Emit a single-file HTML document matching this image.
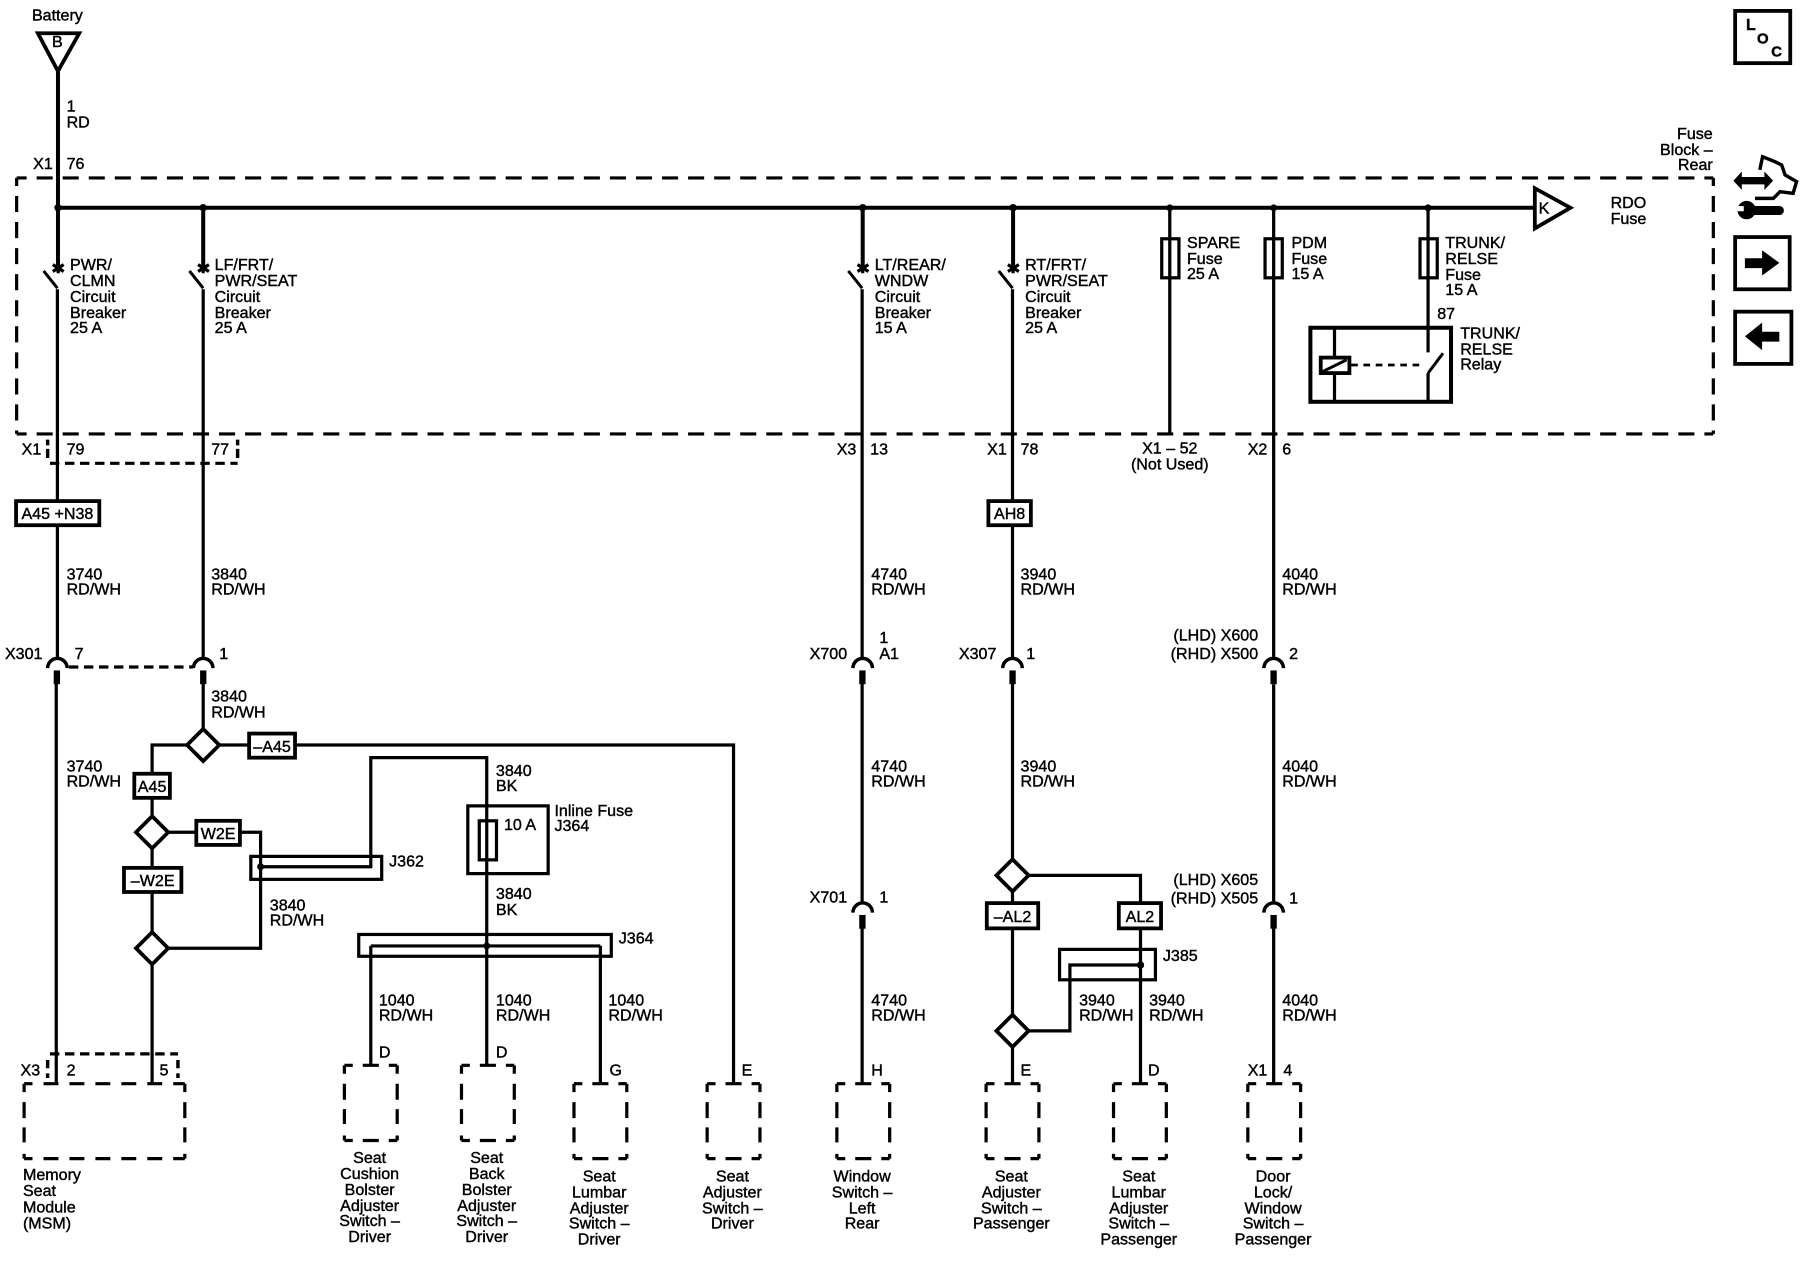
<!DOCTYPE html>
<html><head><meta charset="utf-8"><title>Wiring diagram</title>
<style>
html,body{margin:0;padding:0;background:#fff}
svg{display:block;width:1800px;height:1280px}
text{font-family:"Liberation Sans",sans-serif;font-size:14px;fill:#000;stroke:#000;stroke-width:.35}
.m{text-anchor:middle}.e{text-anchor:end}
.w{fill:none;stroke:#000;stroke-width:3.5}
.t{fill:none;stroke:#000;stroke-width:2.8}
.b{fill:#fff;stroke:#000;stroke-width:3.3}
.s{fill:none;stroke:#000;stroke-width:2.8;stroke-dasharray:8.2 4.9}
.fh{fill:none;stroke:#000;stroke-width:2.8;stroke-dasharray:14 8.7;stroke-dashoffset:5.3}
.fv{fill:none;stroke:#000;stroke-width:2.8;stroke-dasharray:14 8.7;stroke-dashoffset:7}
.h{fill:none;stroke:#000;stroke-width:2.8;stroke-dasharray:7.300 8.700 14 8.700 8}
.v{fill:none;stroke:#000;stroke-width:2.8;stroke-dasharray:7.300 8.700 14 8.100 13 10 7}
.hl{fill:none;stroke:#000;stroke-width:2.8;stroke-dasharray:13 9.600;stroke-dashoffset:5.700}
</style></head><body>
<svg xmlns="http://www.w3.org/2000/svg" viewBox="0 0 1568 1115" preserveAspectRatio="none">
<rect width="1568" height="1115" fill="#fff"/>
<!-- frame -->
<path class="fh" d="M14.500 155H1492.500M14.500 378H1492.500"/>
<path class="fv" d="M14.500 155V378M1492.500 155V378"/>
<!-- X1 79/77 bracket -->
<path class="s" d="M43.500 403.600H207"/>
<path d="M41.500 383V388M41.500 391V399M207 383V388M207 391V399" stroke="#000" stroke-width="3" fill="none"/>
<path class="s" d="M60 581H168"/>
<!-- X3 bracket -->
<path class="s" d="M43.500 918H155"/>
<path d="M41.500 923.400V930.500M41.500 935V939M155 923.400V930.500M155 935V939" stroke="#000" stroke-width="3" fill="none"/>
<!-- bus and wires -->
<path class="w" d="M50.500 60V233M50.500 181H1338"/>
<path class="w" d="M177 178V233M751.500 178V233M882.500 178V233"/>
<path class="t" d="M1019 181V378M1109.500 181V573.500M1244 181V307M1244 325V350"/>
<path class="t" d="M1109.500 596V786M1109.500 808V944"/>
<path class="t" d="M50 252V573.500M177 252V573.500M751 252V573.500M882 252V573.500"/>
<path class="t" d="M49 590V944M177 590V635M751 590V786M751 800V944M882 590V748M882 776V884M882 912V944"/>
<path class="t" d="M163 649H132.500V711M191 649H639V944M146 725H227V826H146M132.500 739V812M132.500 840V944"/>
<path class="t" d="M227 755H323V660H424V928M323 824H523M323 824V928M523 824V944"/>
<path class="t" d="M896 762.500H993.500V944M896 898H932V840.600H993.500"/>
<!-- junction dots -->
<g>
<circle cx="50.500" cy="181" r="3.200"/><circle cx="177" cy="181" r="3.200"/><circle cx="751.500" cy="181" r="3.200"/><circle cx="882.500" cy="181" r="3.200"/><circle cx="1019" cy="181" r="3"/><circle cx="1109.500" cy="181" r="3"/><circle cx="1244" cy="181" r="3"/>
<circle cx="227" cy="755" r="3"/><circle cx="424" cy="824" r="3"/><circle cx="993.500" cy="840.600" r="3.200"/>
</g>
<!-- battery -->
<path class="b" d="M33 29H69L50.500 62Z"/>
<!-- K -->
<path class="b" d="M1337 164L1368 181L1337 199Z"/>
<!-- breakers -->
<g stroke="#000" fill="none">
<g stroke-width="2.600"><path d="M38 236L50 251"/><path d="M165 236L177 251"/><path d="M739 236L751 251"/><path d="M870 236L882 251"/></g>
<g stroke-width="2.800">
<path d="M46 230.500L55.500 236.500M46 236.500L55.500 230.500M50.700 229V238"/>
<path d="M172.500 230.500L182 236.500M172.500 236.500L182 230.500M177 229V238"/>
<path d="M747 230.500L756.500 236.500M747 236.500L756.500 230.500M751.500 229V238"/>
<path d="M878 230.500L887.500 236.500M878 236.500L887.500 230.500M882.500 229V238"/>
</g>
</g>
<!-- fuses -->
<rect class="t" x="1012" y="208" width="15" height="34"/>
<rect class="t" x="1102" y="208" width="15" height="34"/>
<rect class="t" x="1237" y="208" width="15" height="34"/>
<!-- relay -->
<rect class="w" x="1141.500" y="285.500" width="122.500" height="64.500"/>
<path class="t" d="M1162.500 286V350"/>
<rect class="b" x="1150.500" y="311.500" width="25" height="13.500" stroke-width="2.900"/>
<path d="M1151.500 324L1173 313.500" stroke="#000" stroke-width="2.600" fill="none"/>
<path d="M1177 318H1240" stroke="#000" stroke-width="2.400" stroke-dasharray="5.800 4.900" fill="none"/>
<path d="M1244 325L1257 307.700" stroke="#000" stroke-width="2.600" fill="none"/>
<!-- connectors -->
<g fill="none" stroke="#000" stroke-width="3">
<path d="M41.500 582A8.500 8.500 0 0 1 58.500 582"/>
<path d="M168.500 582A8.500 8.500 0 0 1 185.500 582"/>
<path d="M743 582A8.500 8.500 0 0 1 760 582"/>
<path d="M873.500 582A8.500 8.500 0 0 1 890.500 582"/>
<path d="M1101 582A8.500 8.500 0 0 1 1118 582"/>
<path d="M743 795A8.500 8.500 0 0 1 760 795"/>
<path d="M1101 795A8.500 8.500 0 0 1 1118 795"/>
</g>
<g>
<rect x="46.800" y="584" width="5.500" height="12"/><rect x="174.300" y="584" width="5.500" height="12"/><rect x="748.500" y="584" width="5.500" height="12"/><rect x="879.300" y="584" width="5.500" height="12"/><rect x="1106.700" y="584" width="5.500" height="12"/><rect x="748.500" y="797" width="5.500" height="12"/><rect x="1106.700" y="797" width="5.500" height="12"/>
</g>
<!-- diamonds -->
<path class="b" d="M177 635L191 649L177 663L163 649Z"/>
<path class="b" d="M132.500 711L146.500 725L132.500 739L118.500 725Z"/>
<path class="b" d="M132.500 812L146.500 826L132.500 840L118.500 826Z"/>
<path class="b" d="M882 748.500L896 762.500L882 776.500L868 762.500Z"/>
<path class="b" d="M882 884L896 898L882 912L868 898Z"/>
<!-- option boxes -->
<rect class="b" x="14" y="436.500" width="72.500" height="21"/>
<rect class="b" x="861" y="436.500" width="37" height="21"/>
<rect class="b" x="217" y="639" width="40" height="21"/>
<rect class="b" x="117" y="674" width="31" height="21"/>
<rect class="b" x="171" y="715" width="38" height="21"/>
<rect class="b" x="108" y="756" width="50" height="21"/>
<rect class="b" x="859.600" y="786.700" width="44.800" height="22"/>
<rect class="b" x="974.600" y="786.700" width="36.800" height="22"/>
<!-- splices and inline fuse -->
<rect class="t" x="218.500" y="746" width="114" height="20"/>
<rect class="t" x="312.500" y="814" width="220" height="19"/>
<rect class="t" x="923" y="827" width="83.500" height="26.500"/>
<rect class="t" x="407.500" y="702" width="70" height="59"/>
<rect class="t" x="417.500" y="715" width="15" height="34"/>
<!-- component outlines -->
<path class="hl" d="M21 944H161M21 1009.300H161"/>
<path class="v" d="M21 944V1009.300M161 944V1009.300"/>
<path class="h" d="M300 928H346M300 993.500H346M402 928H448M402 993.500H448"/>
<path class="v" d="M300 928V993.500M346 928V993.500M402 928V993.500M448 928V993.500"/>
<path class="h" d="M500 944H546M500 1009.300H546M616 944H662M616 1009.300H662M729 944H775M729 1009.300H775M859 944H905M859 1009.300H905M970 944H1016M970 1009.300H1016M1087 944H1133M1087 1009.300H1133"/>
<path class="v" d="M500 944V1009.300M546 944V1009.300M616 944V1009.300M662 944V1009.300M729 944V1009.300M775 944V1009.300M859 944V1009.300M905 944V1009.300M970 944V1009.300M1016 944V1009.300M1087 944V1009.300M1133 944V1009.300"/>
<!-- side icons -->
<rect class="b" x="1511.500" y="9.500" width="48" height="45.500" stroke-width="2.900"/>
<rect class="b" x="1511.500" y="206.500" width="47.500" height="45.500" stroke-width="2.900"/>
<rect class="b" x="1511.500" y="271.500" width="49" height="45.500" stroke-width="2.900"/>
<path d="M1520 225H1535V218L1550 229L1535 240V233.600H1520Z"/>
<path d="M1550 289H1535V281L1520 293L1535 305V297.600H1550Z"/>
<path d="M1510 157.400L1517.300 149.400V154.200H1537V149.400L1544.600 157.400L1537 165.400V160.600H1517.300V165.400Z"/>
<path d="M1533 148L1535.400 136.500L1546 140.800L1552 143.700L1555 152.400L1565 158.200L1562 168.400L1550.600 167L1544.800 172.800H1528.800" fill="none" stroke="#000" stroke-width="3"/>
<rect x="1523" y="179.400" width="31" height="7.900" rx="3.900"/>
<circle cx="1521.500" cy="183" r="8"/>
<rect x="1513" y="179.500" width="6" height="4.500" fill="#fff"/>
<text x="1521" y="26" font-weight="bold">L</text><text x="1530.500" y="37.700" font-weight="bold" style="font-size:13px">O</text><text x="1543" y="49.400" font-weight="bold" style="font-size:13px">C</text>
<!-- labels -->
<text x="50" y="18" class="m">Battery</text>
<text x="50" y="41" class="m">B</text>
<text x="1345" y="186" class="m">K</text>
<text x="58" y="97">1</text><text x="58" y="111">RD</text>
<text x="46" y="147" class="e">X1</text><text x="58" y="147">76</text>
<text x="1492" y="121" class="e">Fuse</text><text x="1492" y="135" class="e">Block –</text><text x="1492" y="148" class="e">Rear</text>
<text x="1403" y="181">RDO</text><text x="1403" y="195">Fuse</text>
<text x="61" y="235">PWR/</text><text x="61" y="249">CLMN</text><text x="61" y="263">Circuit</text><text x="61" y="277">Breaker</text><text x="61" y="290">25 A</text>
<text x="187" y="235">LF/FRT/</text><text x="187" y="249">PWR/SEAT</text><text x="187" y="263">Circuit</text><text x="187" y="277">Breaker</text><text x="187" y="290">25 A</text>
<text x="762" y="235">LT/REAR/</text><text x="762" y="249">WNDW</text><text x="762" y="263">Circuit</text><text x="762" y="277">Breaker</text><text x="762" y="290">15 A</text>
<text x="893" y="235">RT/FRT/</text><text x="893" y="249">PWR/SEAT</text><text x="893" y="263">Circuit</text><text x="893" y="277">Breaker</text><text x="893" y="290">25 A</text>
<text x="1034" y="216">SPARE</text><text x="1034" y="230">Fuse</text><text x="1034" y="243">25 A</text>
<text x="1125" y="216">PDM</text><text x="1125" y="230">Fuse</text><text x="1125" y="243">15 A</text>
<text x="1259" y="216">TRUNK/</text><text x="1259" y="230">RELSE</text><text x="1259" y="244">Fuse</text><text x="1259" y="257">15 A</text>
<text x="1252" y="278">87</text>
<text x="1272" y="295">TRUNK/</text><text x="1272" y="309">RELSE</text><text x="1272" y="322">Relay</text>
<text x="36" y="396" class="e">X1</text><text x="58" y="396">79</text><text x="184" y="396">77</text>
<text x="746" y="396" class="e">X3</text><text x="758" y="396">13</text>
<text x="877" y="396" class="e">X1</text><text x="889" y="396">78</text>
<text x="1019" y="395" class="m">X1 – 52</text><text x="1019" y="409" class="m">(Not Used)</text>
<text x="1104" y="396" class="e">X2</text><text x="1117" y="396">6</text>
<text x="50" y="452" class="m">A45 +N38</text><text x="879.500" y="452" class="m">AH8</text>
<text x="237" y="655" class="m">–A45</text><text x="132.500" y="690" class="m">A45</text><text x="190" y="731" class="m">W2E</text><text x="133" y="772" class="m">–W2E</text>
<text x="882" y="803" class="m">–AL2</text><text x="993" y="803" class="m">AL2</text>
<text x="58" y="505">3740</text><text x="58" y="518">RD/WH</text>
<text x="184" y="505">3840</text><text x="184" y="518">RD/WH</text>
<text x="759" y="505">4740</text><text x="759" y="518">RD/WH</text>
<text x="889" y="505">3940</text><text x="889" y="518">RD/WH</text>
<text x="1117" y="505">4040</text><text x="1117" y="518">RD/WH</text>
<text x="37" y="574" class="e">X301</text><text x="65" y="574">7</text><text x="191" y="574">1</text>
<text x="738" y="574" class="e">X700</text><text x="766" y="560">1</text><text x="766" y="574">A1</text>
<text x="868" y="574" class="e">X307</text><text x="894" y="574">1</text>
<text x="1096" y="558" class="e">(LHD) X600</text><text x="1096" y="574" class="e">(RHD) X500</text><text x="1123" y="574">2</text>
<text x="184" y="611">3840</text><text x="184" y="625">RD/WH</text>
<text x="58" y="672">3740</text><text x="58" y="685">RD/WH</text>
<text x="759" y="672">4740</text><text x="759" y="685">RD/WH</text>
<text x="889" y="672">3940</text><text x="889" y="685">RD/WH</text>
<text x="1117" y="672">4040</text><text x="1117" y="685">RD/WH</text>
<text x="432" y="676">3840</text><text x="432" y="689">BK</text>
<text x="483" y="711">Inline Fuse</text><text x="483" y="724">J364</text><text x="439" y="723">10 A</text>
<text x="339" y="755">J362</text>
<text x="432" y="783">3840</text><text x="432" y="797">BK</text>
<text x="235" y="793">3840</text><text x="235" y="806">RD/WH</text>
<text x="539" y="822">J364</text><text x="1013" y="837">J385</text>
<text x="738" y="786" class="e">X701</text><text x="766" y="786">1</text>
<text x="1096" y="771" class="e">(LHD) X605</text><text x="1096" y="787" class="e">(RHD) X505</text><text x="1123" y="787">1</text>
<text x="330" y="876">1040</text><text x="330" y="889">RD/WH</text>
<text x="432" y="876">1040</text><text x="432" y="889">RD/WH</text>
<text x="530" y="876">1040</text><text x="530" y="889">RD/WH</text>
<text x="759" y="876">4740</text><text x="759" y="889">RD/WH</text>
<text x="940" y="876">3940</text><text x="940" y="889">RD/WH</text>
<text x="1001" y="876">3940</text><text x="1001" y="889">RD/WH</text>
<text x="1117" y="876">4040</text><text x="1117" y="889">RD/WH</text>
<text x="330" y="921">D</text><text x="432" y="921">D</text>
<text x="35" y="937" class="e">X3</text><text x="58" y="937">2</text><text x="139" y="937">5</text>
<text x="531" y="937">G</text><text x="646" y="937">E</text><text x="759" y="937">H</text><text x="889" y="937">E</text><text x="1000" y="937">D</text>
<text x="1104" y="937" class="e">X1</text><text x="1118" y="937">4</text>
<text x="20" y="1028">Memory</text><text x="20" y="1042">Seat</text><text x="20" y="1056">Module</text><text x="20" y="1070">(MSM)</text>
<text class="m" x="322" y="1013">Seat</text><text class="m" x="322" y="1027">Cushion</text><text class="m" x="322" y="1041">Bolster</text><text class="m" x="322" y="1055">Adjuster</text><text class="m" x="322" y="1068">Switch –</text><text class="m" x="322" y="1082">Driver</text>
<text class="m" x="424" y="1013">Seat</text><text class="m" x="424" y="1027">Back</text><text class="m" x="424" y="1041">Bolster</text><text class="m" x="424" y="1055">Adjuster</text><text class="m" x="424" y="1068">Switch –</text><text class="m" x="424" y="1082">Driver</text>
<text class="m" x="522" y="1029">Seat</text><text class="m" x="522" y="1043">Lumbar</text><text class="m" x="522" y="1057">Adjuster</text><text class="m" x="522" y="1070">Switch –</text><text class="m" x="522" y="1084">Driver</text>
<text class="m" x="638" y="1029">Seat</text><text class="m" x="638" y="1043">Adjuster</text><text class="m" x="638" y="1057">Switch –</text><text class="m" x="638" y="1070">Driver</text>
<text class="m" x="751" y="1029">Window</text><text class="m" x="751" y="1043">Switch –</text><text class="m" x="751" y="1057">Left</text><text class="m" x="751" y="1070">Rear</text>
<text class="m" x="881" y="1029">Seat</text><text class="m" x="881" y="1043">Adjuster</text><text class="m" x="881" y="1057">Switch –</text><text class="m" x="881" y="1070">Passenger</text>
<text class="m" x="992" y="1029">Seat</text><text class="m" x="992" y="1043">Lumbar</text><text class="m" x="992" y="1057">Adjuster</text><text class="m" x="992" y="1070">Switch –</text><text class="m" x="992" y="1084">Passenger</text>
<text class="m" x="1109" y="1029">Door</text><text class="m" x="1109" y="1043">Lock/</text><text class="m" x="1109" y="1057">Window</text><text class="m" x="1109" y="1070">Switch –</text><text class="m" x="1109" y="1084">Passenger</text>
</svg>
</body></html>
